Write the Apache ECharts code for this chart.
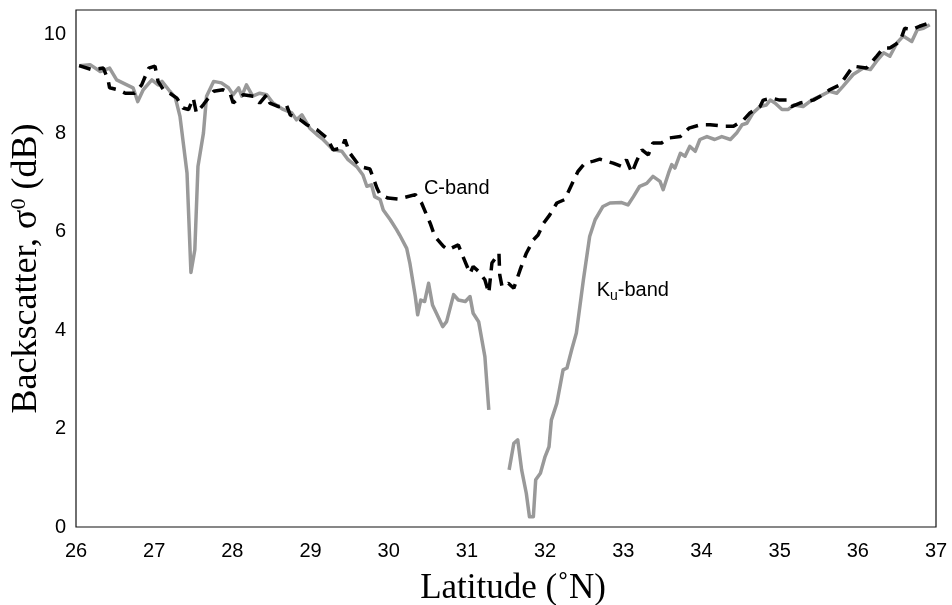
<!DOCTYPE html>
<html>
<head>
<meta charset="utf-8">
<script src="https://cdn.jsdelivr.net/npm/echarts@6/dist/echarts.min.js"></script>
<style>
  html, body { margin: 0; padding: 0; background: #fff; }
  #backscatterChart { width: 952px; height: 605px; }
</style>
</head>
<body>
<div id="backscatterChart"></div>
<script>
// latitude (deg N) and sigma0 (dB)
const kuLat = [26.04, 26.18, 26.31, 26.43, 26.52, 26.65, 26.73, 26.79, 26.86, 26.97, 27.05, 27.10, 27.20, 27.27, 27.33, 27.42, 27.47, 27.52, 27.56, 27.63, 27.67, 27.76, 27.86, 27.95, 28.01, 28.08, 28.12, 28.18, 28.26, 28.35, 28.44, 28.52, 28.65, 28.76, 28.82, 28.89, 28.99, 29.08, 29.16, 29.29, 29.40, 29.48, 29.59, 29.67, 29.72, 29.78, 29.82, 29.89, 29.93, 30.02, 30.10, 30.14, 30.23, 30.27, 30.34, 30.37, 30.41, 30.46, 30.51, 30.56, 30.61, 30.69, 30.74, 30.83, 30.89, 30.98, 31.04, 31.08, 31.15, 31.23, 31.28,
  31.40,
  31.54, 31.60, 31.65, 31.70, 31.76, 31.80, 31.85, 31.88, 31.94, 32.00, 32.05, 32.08, 32.15, 32.23, 32.28, 32.34, 32.40, 32.49, 32.57, 32.64, 32.74, 32.83, 32.98, 33.06, 33.13, 33.21, 33.30, 33.38, 33.47, 33.51, 33.58, 33.62, 33.66, 33.73, 33.79, 33.85, 33.92, 33.98, 34.07, 34.17, 34.26, 34.37, 34.45, 34.52, 34.58, 34.66, 34.75, 34.83, 34.88, 34.94, 35.03, 35.11, 35.18, 35.30, 35.41, 35.52, 35.64, 35.73, 35.81, 35.94, 36.07, 36.16, 36.24, 36.33, 36.41, 36.50, 36.58, 36.69, 36.76, 36.84, 36.92]
const kuBand = [9.37, 9.39, 9.25, 9.32, 9.08, 8.98, 8.92, 8.64, 8.88, 9.08, 8.98, 9.05, 8.85, 8.72, 8.34, 7.19, 5.17, 5.63, 7.32, 8.0, 8.75, 9.05, 9.02, 8.92, 8.78, 8.92, 8.75, 8.98, 8.75, 8.81, 8.78, 8.61, 8.48, 8.41, 8.27, 8.37, 8.10, 7.97, 7.87, 7.66, 7.63, 7.46, 7.32, 7.15, 6.92, 6.95, 6.71, 6.65, 6.44, 6.24, 6.04, 5.93, 5.66, 5.36, 4.68, 4.31, 4.61, 4.58, 4.95, 4.51, 4.34, 4.07, 4.17, 4.72, 4.61, 4.58, 4.68, 4.34, 4.17, 3.46, 2.38,
  null,
  1.16, 1.70, 1.77, 1.16, 0.68, 0.21, 0.21, 0.96, 1.09, 1.43, 1.63, 2.17, 2.51, 3.19, 3.23, 3.60, 3.94, 5.02, 5.90, 6.24, 6.51, 6.58, 6.59, 6.54, 6.71, 6.92, 6.98, 7.12, 7.02, 6.85, 7.19, 7.36, 7.29, 7.59, 7.53, 7.73, 7.63, 7.87, 7.93, 7.87, 7.93, 7.87, 8.0, 8.17, 8.20, 8.41, 8.54, 8.57, 8.67, 8.61, 8.48, 8.48, 8.57, 8.54, 8.67, 8.75, 8.85, 8.81, 8.95, 9.19, 9.32, 9.29, 9.46, 9.63, 9.56, 9.83, 9.97, 9.86, 10.1, 10.13, 10.2]

const cLat = [26.04, 26.20, 26.35, 26.41, 26.43, 26.54, 26.63, 26.75, 26.84, 26.93, 27.01, 27.05, 27.12, 27.20, 27.29, 27.37, 27.44, 27.50, 27.54, 27.63, 27.76, 27.88, 27.97, 28.01, 28.08, 28.14, 28.27, 28.35, 28.44, 28.48, 28.59, 28.69, 28.74, 28.87, 28.95, 29.08, 29.21, 29.29, 29.40, 29.44, 29.50, 29.63, 29.76, 29.85, 29.89, 29.99, 30.12, 30.34, 30.42, 30.53, 30.59, 30.70, 30.76, 30.89, 30.95, 31.04, 31.08, 31.15, 31.23, 31.28, 31.32, 31.41, 31.42, 31.45, 31.53, 31.60, 31.68, 31.76, 31.85, 31.91, 31.98, 32.06, 32.15, 32.25, 32.36, 32.42, 32.51, 32.62, 32.70, 32.87, 32.98, 33.04, 33.11, 33.17, 33.24, 33.32, 33.38, 33.49, 33.58, 33.73, 33.84, 33.99, 34.11, 34.28, 34.41, 34.54, 34.62, 34.75, 34.79, 34.90, 35.00, 35.09, 35.15, 35.26, 35.43, 35.52, 35.64, 35.77, 35.94, 36.11, 36.24, 36.33, 36.41, 36.54, 36.60, 36.69, 36.79, 36.92]
const cBand = [9.37, 9.29, 9.32, 9.08, 8.92, 8.88, 8.81, 8.81, 8.98, 9.32, 9.36, 9.05, 8.88, 8.81, 8.71, 8.51, 8.48, 8.71, 8.41, 8.58, 8.85, 8.88, 8.81, 8.61, 8.71, 8.78, 8.75, 8.61, 8.78, 8.61, 8.54, 8.58, 8.37, 8.27, 8.17, 8.07, 7.90, 7.66, 7.70, 7.87, 7.60, 7.32, 7.27, 6.88, 6.75, 6.68, 6.66, 6.75, 6.58, 6.17, 5.90, 5.70, 5.63, 5.73, 5.49, 5.15, 5.29, 5.19, 5.02, 4.75, 5.36, 5.56, 5.12, 4.88, 4.95, 4.85, 5.22, 5.56, 5.83, 5.93, 6.17, 6.34, 6.58, 6.65, 7.02, 7.22, 7.39, 7.43, 7.47, 7.39, 7.32, 7.46, 7.19, 7.43, 7.66, 7.56, 7.80, 7.80, 7.90, 7.93, 8.10, 8.17, 8.17, 8.14, 8.14, 8.27, 8.41, 8.54, 8.67, 8.71, 8.67, 8.67, 8.54, 8.61, 8.67, 8.75, 8.88, 8.98, 9.36, 9.32, 9.56, 9.73, 9.73, 9.86, 10.13, 10.1, 10.17, 10.24]

const yTicks = [0, 2, 4, 6, 8, 10]

const sans = 'Liberation Sans, Arial, sans-serif'
const serif = 'Liberation Serif, Times New Roman, serif'

function pairs (xs, ys) {
  return xs.map((x, i) => [x, ys[i] === null ? '-' : ys[i]])
}

const chart = echarts.init(document.getElementById('backscatterChart'))
chart.setOption({
  animation: false,
  grid: {
    left: 76,
    right: 16,
    top: 10,
    bottom: 78,
    containLabel: false,
    outerBoundsMode: 'none',
    show: true,
    borderColor: '#111',
    borderWidth: 1.2
  },
  xAxis: {
    type: 'value',
    min: 26,
    max: 37,
    interval: 1,
    name: 'Latitude (˚N)',
    nameLocation: 'middle',
    nameGap: 44,
    nameMoveOverlap: false,
    nameTextStyle: { fontFamily: serif, fontSize: 35, color: '#000', padding: [0, 0, 0, 14] },
    axisLine: { show: false },
    axisTick: { show: false },
    splitLine: { show: false },
    axisLabel: { fontFamily: sans, fontSize: 20, color: '#000', margin: 14 }
  },
  yAxis: {
    type: 'value',
    min: 0,
    max: 10.5,
    interval: 2,
    name: '{a|Backscatter, σ}{s|0}{a| (dB)}',
    nameLocation: 'middle',
    nameRotate: 90,
    nameGap: 30,
    nameMoveOverlap: false,
    nameTextStyle: {
      color: '#000',
      rich: {
        a: { fontFamily: serif, fontSize: 36, color: '#000', lineHeight: 38 },
        s: { fontFamily: serif, fontSize: 22, color: '#000', verticalAlign: 'top', lineHeight: 38 }
      }
    },
    axisLine: { show: false },
    axisTick: { show: false },
    splitLine: { show: false },
    axisLabel: {
      fontFamily: sans,
      fontSize: 20,
      color: '#000',
      margin: 10,
      showMaxLabel: false,
      formatter: (v) => (yTicks.includes(v) ? String(v) : '')
    }
  },
  series: [
    {
      name: 'Ku-band',
      type: 'line',
      data: pairs(kuLat, kuBand),
      showSymbol: false,
      connectNulls: false,
      lineStyle: { color: '#999999', width: 3.5, join: 'round' },
      z: 2
    },
    {
      name: 'C-band',
      type: 'line',
      data: pairs(cLat, cBand),
      showSymbol: false,
      lineStyle: { color: '#000', width: 3.5, type: [12, 8] },
      z: 3
    }
  ]
})

// place the two curve labels in data coordinates
const cPos = chart.convertToPixel({ gridIndex: 0 }, [30.45, 6.87])
const kuPos = chart.convertToPixel({ gridIndex: 0 }, [32.66, 4.80])
chart.setOption({
  graphic: [
    {
      type: 'text',
      x: cPos[0],
      y: cPos[1],
      style: { text: 'C-band', fontFamily: sans, fontSize: 20, fill: '#000', verticalAlign: 'middle' }
    },
    {
      type: 'text',
      x: kuPos[0],
      y: kuPos[1],
      style: {
        text: '{k|K}{sub|u}{k|-band}',
        verticalAlign: 'middle',
        rich: {
          k: { fontFamily: sans, fontSize: 20, fill: '#000', lineHeight: 30, verticalAlign: 'middle' },
          sub: { fontFamily: sans, fontSize: 14, fill: '#000', lineHeight: 30, verticalAlign: 'bottom', padding: [0, 0, 3, 0] }
        }
      }
    }
  ]
})
</script>
</body>
</html>
